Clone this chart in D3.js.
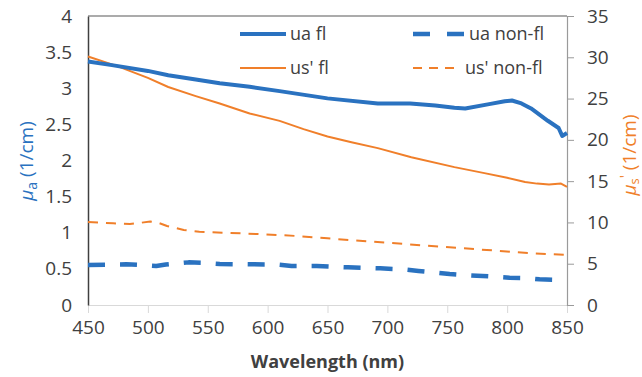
<!DOCTYPE html>
<html>
<head>
<meta charset="utf-8">
<script src="https://cdn.jsdelivr.net/npm/d3@7"></script>
<style>
  body { margin: 0; background: #fff; }
  svg text { font-family: "Open Sans", sans-serif; }
</style>
</head>
<body>
<div id="chart"></div>
<script>
// values
const uaFlWl   = [450, 470, 500, 517, 540, 560, 585, 610, 650, 692, 719, 740, 756, 765, 785, 798, 804, 812, 820, 834, 843, 846, 850];
const uaFl     = [3.37, 3.32, 3.24, 3.18, 3.12, 3.07, 3.02, 2.96, 2.86, 2.79, 2.79, 2.76, 2.73, 2.72, 2.78, 2.82, 2.83, 2.79, 2.72, 2.55, 2.45, 2.34, 2.38];

const uaNonWl  = [450, 482, 500, 507, 515, 534, 545, 560, 587, 608, 620, 641, 667, 694, 713, 726, 738, 752, 770, 790, 802, 815, 827, 847, 850];
const uaNon    = [0.555, 0.563, 0.548, 0.54, 0.56, 0.59, 0.585, 0.567, 0.563, 0.56, 0.54, 0.54, 0.521, 0.507, 0.494, 0.47, 0.452, 0.429, 0.41, 0.392, 0.378, 0.374, 0.355, 0.346, 0.34];

const usFlWl   = [450, 475, 500, 517, 540, 560, 585, 610, 630, 650, 670, 692, 720, 756, 780, 800, 815, 825, 835, 845, 850];
const usFl     = [30.1, 28.9, 27.5, 26.4, 25.3, 24.4, 23.2, 22.3, 21.3, 20.4, 19.7, 19.0, 17.9, 16.7, 16.0, 15.4, 14.9, 14.7, 14.6, 14.7, 14.3];

const usNonWl  = [450, 471, 485, 502, 508, 516, 530, 543, 563, 591, 624, 650, 699, 744, 783, 822, 850];
const usNon    = [10.05, 9.9, 9.8, 10.1, 10.0, 9.57, 9.08, 8.88, 8.76, 8.6, 8.36, 8.07, 7.55, 7.07, 6.66, 6.26, 6.06];

const xTicks  = [450, 500, 550, 600, 650, 700, 750, 800, 850];
const yTicksL = [0, 0.5, 1, 1.5, 2, 2.5, 3, 3.5, 4];
const yTicksR = [0, 5, 10, 15, 20, 25, 30, 35];

const blue = '#2a72c0';
const orange = '#f07f2a';

const width = 642, height = 377;
const plot = {left: 88, right: 567, top: 16, bottom: 305};

const svg = d3.select('#chart').append('svg')
    .attr('width', width)
    .attr('height', height);

const x = d3.scaleLinear().domain([450, 850]).range([plot.left, plot.right]);
const yL = d3.scaleLinear().domain([0, 4]).range([plot.bottom, plot.top]);
const yR = d3.scaleLinear().domain([0, 35]).range([plot.bottom, plot.top]);

// bottom axis
const xAxis = svg.append('g')
    .attr('transform', `translate(0,${plot.bottom})`)
    .call(d3.axisBottom(x).tickValues(xTicks).tickSize(8).tickPadding(8).tickFormat(d3.format('d')));
xAxis.select('.domain').attr('stroke', '#d9d9d9');
xAxis.selectAll('.tick line').attr('stroke', '#d9d9d9');
xAxis.selectAll('.tick text').attr('font-size', 19).attr('fill', '#404040');

// left axis: line only
const yAxisL = svg.append('g')
    .attr('transform', `translate(${plot.left},0)`)
    .call(d3.axisLeft(yL).tickValues(yTicksL).tickSize(0).tickPadding(16).tickFormat(d => String(d)));
yAxisL.select('.domain').attr('stroke', '#404040').attr('stroke-width', 1.5);
yAxisL.selectAll('.tick text').attr('font-size', 19).attr('fill', '#404040');

// right axis
const yAxisR = svg.append('g')
    .attr('transform', `translate(${plot.right},0)`)
    .call(d3.axisRight(yR).tickValues(yTicksR).tickSize(7).tickSizeOuter(7).tickPadding(13));
yAxisR.select('.domain').attr('stroke', '#9a9a9a').attr('stroke-width', 1.2);
yAxisR.selectAll('.tick line').attr('stroke', '#9a9a9a');
yAxisR.selectAll('.tick text').attr('font-size', 19).attr('fill', '#404040');

// top border
svg.append('line')
    .attr('x1', plot.left).attr('x2', plot.right)
    .attr('y1', plot.top).attr('y2', plot.top)
    .attr('stroke', '#595959').attr('stroke-width', 1.2);

const series = [
    {wl: uaNonWl, v: uaNon, y: yL, color: blue, w: 4.5, dash: '17,15'},
    {wl: usNonWl, v: usNon, y: yR, color: orange, w: 2, dash: '10,8'},
    {wl: usFlWl, v: usFl, y: yR, color: orange, w: 2, dash: null},
    {wl: uaFlWl, v: uaFl, y: yL, color: blue, w: 4, dash: null}
];

series.forEach(s => {
    const line = d3.line()
        .x((d, i) => x(s.wl[i]))
        .y(d => s.y(d));
    svg.append('path')
        .attr('d', line(s.v))
        .attr('fill', 'none')
        .attr('stroke', s.color)
        .attr('stroke-width', s.w)
        .attr('stroke-linejoin', 'round')
        .attr('stroke-dasharray', s.dash);
});

// legend
const legend = [
    {label: 'ua fl', x: 240, y: 34, color: blue, w: 4, dash: null, len: 46},
    {label: 'ua non-fl', x: 413, y: 34, color: blue, w: 4.5, dash: '17,17', len: 52},
    {label: "us' fl", x: 240, y: 68, color: orange, w: 2, dash: null, len: 46},
    {label: "us' non-fl", x: 413, y: 68, color: orange, w: 2, dash: '9,7', len: 48}
];
legend.forEach(l => {
    svg.append('line')
        .attr('x1', l.x).attr('x2', l.x + l.len)
        .attr('y1', l.y).attr('y2', l.y)
        .attr('stroke', l.color).attr('stroke-width', l.w)
        .attr('stroke-dasharray', l.dash);
    svg.append('text')
        .attr('x', l.x + l.len + 4).attr('y', l.y)
        .attr('dy', '0.35em')
        .attr('font-size', 18)
        .attr('fill', '#404040')
        .text(l.label);
});

// axis titles
svg.append('text')
    .attr('x', (plot.left + plot.right) / 2).attr('y', 368)
    .attr('text-anchor', 'middle')
    .attr('font-size', 18).attr('font-weight', 'bold')
    .attr('fill', '#404040')
    .text('Wavelength (nm)');

const tL = svg.append('text')
    .attr('transform', 'translate(33,161) rotate(-90)')
    .attr('text-anchor', 'middle')
    .attr('font-size', 19).attr('fill', blue);
tL.append('tspan').attr('font-style', 'italic').text('μ');
tL.append('tspan').attr('font-size', 14).attr('dy', 4).text('a');
tL.append('tspan').attr('dy', -4).text(' (1/cm)');

const tR = svg.append('text')
    .attr('transform', 'translate(636,155) rotate(-90)')
    .attr('text-anchor', 'middle')
    .attr('font-size', 19).attr('fill', orange);
tR.append('tspan').attr('font-style', 'italic').text('μ');
tR.append('tspan').attr('font-size', 13).attr('dy', 3).text('s');
tR.append('tspan').attr('font-size', 14).attr('dy', -9).text("'");
tR.append('tspan').attr('dy', 6).text(' (1/cm)');
</script>
</body>
</html>
